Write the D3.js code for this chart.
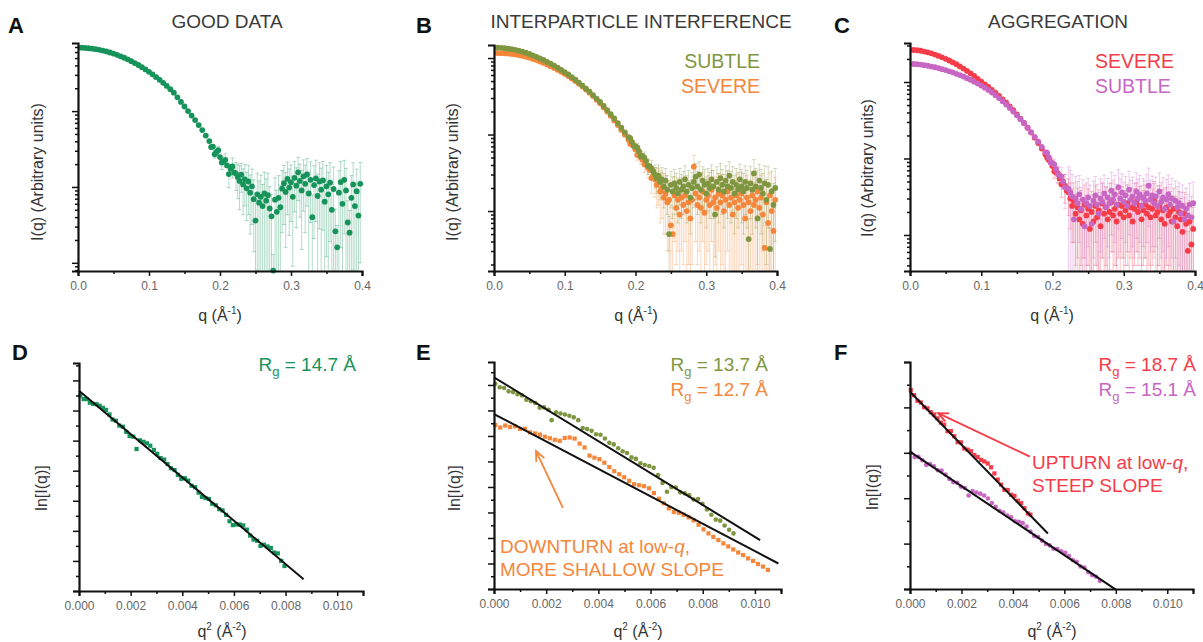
<!DOCTYPE html>
<html>
<head>
<meta charset="utf-8">
<script src="https://cdn.jsdelivr.net/npm/d3@7"></script>
<style>
  body { margin: 0; background: #fff; }
  svg { display: block; }
  text { font-family: "Liberation Sans", Arial, Helvetica, sans-serif; }
</style>
</head>
<body>
<script>
// ---------------- Scattering profiles I(q) ----------------
const qGrid = [0.005,0.010,0.015,0.020,0.025,0.030,0.035,0.040,0.045,0.050,0.055,0.060,0.065,0.070,0.075,0.080,0.085,0.090,0.095,0.100,0.105,0.110,0.115,0.120,0.125,0.130,0.135,0.140,0.145,0.150,0.155,0.160,0.165,0.170,0.175,0.180,0.185,0.190,0.195,0.200,0.205,0.210,0.215,0.220,0.225];

// smooth low-q part of each profile (one value per qGrid entry)
const goodI = [685,680,674,664,654,642,627,611,592,573,551,527,505,481,455,430,405,379,354,329,305,281,258,236,215,194,175,152,132,115,100,87.3,76.2,65.4,56.2,47.6,40.3,34.1,28.9,24.8,21.7,19.2,17.3,15.5];
const ipiSubtleI = [1364,1359,1347,1331,1307,1280,1250,1212,1173,1128,1081,1037,988,942,892,845,796,749,701,656,609,564,521,478,437,399,363,328,295,266,236,209,184,162,141,123,107,92.7,80.3,69.7,60.5,52.4,45.0,38.7,33.3];
const ipiSevereI = [1162,1158,1152,1145,1132,1115,1095,1068,1043,1010,973,940,900,863,822,783,743,703,660,621,580,539,501,461,423,387,352,318,285,256,226,200,175,153,133,115,99.5,85.7,73.8,63.7,54.9,47.2,40.3,34.3,29.3];
const aggSevereI = [262,260,256,250,244,237,228,219,210,201,191,181,171,160,150,140,130,120,110,101,93.3,86.0,78.8,72.0,65.6,59.4,53.5,47.8,42.7,37.8,33.2,29.1,25.3,21.8,18.7,15.9,13.5,11.4,9.53,7.96,6.62,5.49,4.56,3.78];
const aggSubtleI = [172,171,169,166,163,159,156,152,147,143,138,134,128,123,118,112,107,101,95.3,89.7,84.2,78.6,72.9,67.2,61.6,56.1,50.8,45.7,41.0,36.7,32.6,28.9,25.3,22.1,19.2,16.6,14.2,12.1,10.3,8.66,7.25,6.03,5.00,4.14];

// noisy high-q part: [q, I, error]
const goodTail = [[0.1875,33.5,2.5],[0.1925,27.0,3],[0.1975,30.5,3.5],[0.2025,21.0,4],[0.2075,22.8,4.5],[0.2125,14.8,5],[0.2175,18.6,5.5],
[0.2225,15.0,6],[0.225,13.5,6.5],[0.2275,12.0,7],[0.230,14.5,6],[0.2325,10.8,6.5],[0.235,12.6,7],[0.2375,9.6,6],[0.240,11.8,7.5],[0.2425,8.4,6],[0.245,10.2,7],[0.2475,6.9,5.5],[0.250,3.6,3.2],[0.2525,8.0,7.2],[0.255,6.2,5.8],[0.2575,7.4,6.9],[0.260,5.6,5.2],[0.2625,8.2,7.5],[0.265,6.6,6.2],[0.2675,7.8,7.4],[0.270,5.2,4.9],[0.2725,4.1,3.9],[0.275,0.79,0.5],[0.2775,6.8,6.4],[0.280,4.7,4.4],[0.2825,7.2,6.9],[0.285,5.4,5.1],[0.2875,9.5,7.0],[0.290,11.2,8.0],[0.2925,8.6,7.0],[0.295,12.8,8.5],[0.2975,9.8,7.5],[0.300,11.5,8.0],[0.3025,7.4,6.5],[0.305,13.2,8.5],[0.3075,10.4,7.5],[0.310,15.6,9],[0.3125,12.0,8],[0.315,9.0,7.5],[0.3175,13.8,9],[0.320,11.0,8.5],[0.3225,14.6,9],[0.325,8.2,7.5],[0.3275,12.4,9],[0.330,4.0,3.8],[0.3325,10.6,8.5],[0.335,13.0,9.5],[0.3375,7.6,7.2],[0.340,11.8,9],[0.3425,9.2,8.5],[0.345,12.2,9.5],[0.3475,6.4,6.1],[0.350,10.2,9],[0.3525,8.0,7.6],[0.355,11.4,9.5],[0.3575,5.0,4.8],[0.360,9.4,8.9],[0.3625,2.6,2.5],[0.365,1.6,1.5],[0.3675,8.4,8],[0.370,11.6,10],[0.3725,6.0,5.7],[0.375,12.4,10],[0.3775,9.0,8.6],[0.380,3.4,3.2],[0.3825,2.5,2.4],[0.385,7.2,6.9],[0.3875,10.8,10],[0.390,5.6,5.3],[0.3925,8.8,8.4],[0.395,4.2,4.0],[0.3975,11.0,10]];

const ipiSubtleTail = [[0.1925,90,8],[0.1975,71,8],[0.2025,68,9],[0.2075,52,8],[0.2125,50,9],[0.2175,39,9],[0.2225,36,10],
[0.2275,30,10],[0.230,27,10],[0.2325,29,11],[0.235,24,10],[0.2375,26,11],[0.240,21,10],[0.2425,25,11],[0.245,19,10],[0.2475,5.0,3.5],[0.250,22,11],[0.2525,18,10],[0.255,23,12],[0.2575,20,11],[0.260,17,10],[0.2625,24,12],[0.265,19,11],[0.2675,21,12],[0.270,26,13],[0.2725,18,11],[0.275,22,12],[0.2775,15,10],[0.280,20,12],[0.2825,24,13],[0.285,28,14],[0.2875,21,12],[0.290,30,14],[0.2925,19,12],[0.295,25,13],[0.2975,22,13],[0.300,17,11],[0.3025,23,13],[0.305,20,12],[0.3075,26,14],[0.310,21,13],[0.3125,9.0,6.5],[0.315,24,14],[0.3175,19,12],[0.320,27,15],[0.3225,22,13],[0.325,18,12],[0.3275,25,14],[0.330,21,13],[0.3325,29,15],[0.335,20,13],[0.3375,24,14],[0.340,17,12],[0.3425,22,14],[0.345,19,13],[0.3475,26,15],[0.350,21,14],[0.3525,18,13],[0.355,24,15],[0.3575,20,14],[0.360,4.3,3.5],[0.3625,23,15],[0.365,19,14],[0.3675,31,16],[0.370,21,15],[0.3725,8.0,6.5],[0.375,25,16],[0.3775,20,15],[0.380,17,14],[0.3825,23,16],[0.385,14,12],[0.3875,22,16],[0.390,3.2,2.8],[0.3925,18,15],[0.395,12,11],[0.3975,20,16]];

const ipiSevereTail = [[0.1925,76,7],[0.1975,72,8],[0.2025,54,8],[0.2075,50,9],[0.2125,41,9],[0.2175,37,10],[0.2225,27,10],
[0.2275,26,11],[0.230,22,11],[0.2325,24,12],[0.235,18,11],[0.2375,20,12],[0.240,15,10],[0.2425,17,12],[0.245,13,10],[0.2475,14,11],[0.250,6.5,5.5],[0.2525,5.0,4.2],[0.255,16,12],[0.2575,11,9],[0.260,14,11],[0.2625,9.0,7.5],[0.265,15,12],[0.2675,12,10],[0.270,16,12],[0.2725,10,8.5],[0.275,13,11],[0.2775,8.0,7],[0.280,14,12],[0.2825,38,15],[0.285,17,13],[0.2875,12,10],[0.290,15,12],[0.2925,11,9.5],[0.295,18,14],[0.2975,9.5,8.5],[0.300,14,12],[0.3025,16,13],[0.305,12,10.5],[0.3075,19,15],[0.310,13,11.5],[0.3125,15,13],[0.315,11,10],[0.3175,17,14],[0.320,13,12],[0.3225,16,14],[0.325,10,9.2],[0.3275,14,12.5],[0.330,18,15],[0.3325,12,11],[0.335,15,13.5],[0.3375,9.0,8.4],[0.340,13,12],[0.3425,16,14.5],[0.345,11,10.3],[0.3475,14,13],[0.350,17,15],[0.3525,12,11.2],[0.355,8.0,7.6],[0.3575,15,14],[0.360,13,12.5],[0.3625,10,9.6],[0.365,16,15],[0.3675,12,11.5],[0.370,14,13.5],[0.3725,18,16],[0.375,11,10.6],[0.3775,15,14.5],[0.380,9.0,8.7],[0.3825,3.3,3.2],[0.385,13,12.6],[0.3875,7.0,6.8],[0.390,16,15.5],[0.3925,10,9.8],[0.395,5.5,5.4],[0.3975,14,13.6]];

const aggSevereTail = [[0.1925,10.2,1],[0.1975,9.0,1.2],[0.2025,6.8,1.3],[0.2075,6.4,1.5],[0.2125,4.6,1.5],[0.2175,4.4,1.8],
[0.2225,3.6,1.8],[0.225,3.0,1.8],[0.2275,2.4,1.6],[0.230,2.8,2.0],[0.2325,1.9,1.5],[0.235,2.3,1.8],[0.2375,1.6,1.3],[0.240,2.1,1.7],[0.2425,1.4,1.2],[0.245,2.5,2.0],[0.2475,1.8,1.5],[0.250,2.2,1.8],[0.2525,1.2,1.0],[0.255,2.0,1.7],[0.2575,1.5,1.3],[0.260,2.4,2.0],[0.2625,1.7,1.5],[0.265,2.1,1.8],[0.2675,1.3,1.1],[0.270,2.6,2.1],[0.2725,1.9,1.6],[0.275,2.3,1.9],[0.2775,1.6,1.4],[0.280,2.0,1.7],[0.2825,2.7,2.1],[0.285,1.8,1.5],[0.2875,2.2,1.8],[0.290,1.5,1.3],[0.2925,2.5,2.0],[0.295,1.9,1.6],[0.2975,2.4,1.9],[0.300,1.7,1.4],[0.3025,2.1,1.7],[0.305,2.6,2.0],[0.3075,1.8,1.5],[0.310,2.3,1.8],[0.3125,1.5,1.3],[0.315,2.2,1.8],[0.3175,2.7,2.1],[0.320,2.0,1.6],[0.3225,2.4,1.9],[0.325,1.6,1.3],[0.3275,2.1,1.7],[0.330,2.5,2.0],[0.3325,1.9,1.6],[0.335,2.3,1.9],[0.3375,1.7,1.5],[0.340,2.2,1.8],[0.3425,2.8,2.2],[0.345,1.8,1.5],[0.3475,2.0,1.7],[0.350,2.4,2.0],[0.3525,1.6,1.4],[0.355,2.1,1.8],[0.3575,1.4,1.2],[0.360,2.3,1.9],[0.3625,1.8,1.6],[0.365,2.0,1.7],[0.3675,1.5,1.3],[0.370,2.2,1.9],[0.3725,1.7,1.5],[0.375,1.3,1.1],[0.3775,2.0,1.7],[0.380,1.6,1.4],[0.3825,1.1,1.0],[0.385,1.9,1.7],[0.3875,1.4,1.2],[0.390,0.62,0.5],[0.3925,1.5,1.3],[0.395,0.75,0.6],[0.3975,1.2,1.1]];

const aggSubtleTail = [[0.1925,11.8,1],[0.1975,8.8,1.2],[0.2025,8.4,1.4],[0.2075,6.2,1.5],[0.2125,5.8,1.8],[0.2175,4.2,2],
[0.2225,4.0,3.8],[0.225,3.6,3.4],[0.2275,3.2,3.0],[0.230,1.6,1.5],[0.2325,3.0,2.8],[0.235,2.6,2.4],[0.2375,3.4,2.6],[0.240,2.2,2.0],[0.2425,2.9,2.4],[0.245,1.3,1.2],[0.2475,2.6,2.2],[0.250,3.1,2.4],[0.2525,2.4,2.1],[0.255,1.4,1.3],[0.2575,2.8,2.3],[0.260,3.3,2.5],[0.2625,2.5,2.1],[0.265,1.9,1.7],[0.2675,3.0,2.4],[0.270,2.7,2.2],[0.2725,3.5,2.6],[0.275,2.3,2.0],[0.2775,3.1,2.4],[0.280,2.6,2.1],[0.2825,3.8,2.8],[0.285,2.9,2.3],[0.2875,3.4,2.6],[0.290,2.5,2.1],[0.2925,4.2,3.0],[0.295,3.0,2.4],[0.2975,3.6,2.7],[0.300,2.7,2.2],[0.3025,3.3,2.5],[0.305,2.4,2.0],[0.3075,3.9,2.9],[0.310,2.9,2.3],[0.3125,3.2,2.5],[0.315,2.6,2.1],[0.3175,3.7,2.8],[0.320,3.0,2.4],[0.3225,3.4,2.6],[0.325,2.4,2.0],[0.3275,3.1,2.4],[0.330,2.8,2.3],[0.3325,3.5,2.7],[0.335,4.4,3.1],[0.3375,2.9,2.3],[0.340,3.3,2.6],[0.3425,2.6,2.1],[0.345,3.2,2.5],[0.3475,2.4,2.0],[0.350,3.7,2.8],[0.3525,2.7,2.2],[0.355,3.1,2.5],[0.3575,2.2,1.9],[0.360,2.9,2.4],[0.3625,3.4,2.7],[0.365,2.5,2.1],[0.3675,3.0,2.5],[0.370,1.5,1.4],[0.3725,2.8,2.3],[0.375,2.3,2.0],[0.3775,2.6,2.2],[0.380,1.9,1.7],[0.3825,2.4,2.1],[0.385,1.6,1.5],[0.3875,2.2,1.9],[0.390,1.8,1.6],[0.3925,2.5,2.2],[0.395,1.7,1.5],[0.3975,2.6,2.3]];

// ---------------- Guinier plots: [q^2, ln I] ----------------
const guinierGood = [[0.00005,4.650],[0.00018,4.638],[0.00030,4.638],[0.00042,4.626],[0.00055,4.622],[0.00068,4.621],[0.00080,4.616],[0.00093,4.609],[0.00105,4.602],[0.00118,4.587],[0.00130,4.570],[0.00143,4.566],[0.00156,4.550],[0.00170,4.546],[0.00183,4.529],[0.00196,4.515],[0.00210,4.513],[0.00223,4.472],[0.00236,4.501],[0.00250,4.496],[0.00263,4.491],[0.00276,4.483],[0.00290,4.469],[0.00303,4.456],[0.00316,4.442],[0.00330,4.437],[0.00343,4.422],[0.00356,4.408],[0.00370,4.402],[0.00383,4.386],[0.00396,4.373],[0.00410,4.375],[0.00423,4.367],[0.00436,4.350],[0.00450,4.345],[0.00463,4.327],[0.00476,4.313],[0.00490,4.309],[0.00503,4.306],[0.00516,4.290],[0.00530,4.285],[0.00543,4.272],[0.00556,4.268],[0.00570,4.253],[0.00583,4.232],[0.00596,4.219],[0.00610,4.221],[0.00623,4.221],[0.00636,4.218],[0.00650,4.204],[0.00663,4.184],[0.00676,4.171],[0.00690,4.167],[0.00703,4.150],[0.00716,4.154],[0.00730,4.148],[0.00743,4.143],[0.00756,4.128],[0.00770,4.125],[0.00783,4.100],[0.00796,4.083]];

const guinierIpiSubtle = [[0.00005,4.805],[0.00022,4.791],[0.00039,4.788],[0.00056,4.775],[0.00073,4.772],[0.00090,4.764],[0.00107,4.759],[0.00124,4.742],[0.00141,4.736],[0.00158,4.729],[0.00175,4.711],[0.00192,4.712],[0.00209,4.703],[0.00221,4.662],[0.00238,4.693],[0.00255,4.688],[0.00272,4.684],[0.00289,4.679],[0.00306,4.673],[0.00323,4.662],[0.00340,4.631],[0.00357,4.627],[0.00374,4.620],[0.00391,4.607],[0.00408,4.605],[0.00425,4.590],[0.00442,4.573],[0.00459,4.567],[0.00476,4.552],[0.00493,4.540],[0.00510,4.533],[0.00527,4.516],[0.00544,4.510],[0.00561,4.493],[0.00578,4.486],[0.00595,4.482],[0.00612,4.475],[0.00629,4.447],[0.00646,4.416],[0.00663,4.381],[0.00680,4.399],[0.00697,4.398],[0.00714,4.379],[0.00731,4.375],[0.00748,4.368],[0.00765,4.351],[0.00782,4.353],[0.00799,4.334],[0.00816,4.312],[0.00833,4.291],[0.00850,4.272],[0.00867,4.268],[0.00884,4.249],[0.00901,4.232],[0.00918,4.218]];

const guinierIpiSevere = [[0.00005,4.643],[0.00024,4.633],[0.00043,4.641],[0.00062,4.635],[0.00081,4.638],[0.00100,4.628],[0.00119,4.628],[0.00138,4.614],[0.00157,4.610],[0.00176,4.605],[0.00195,4.597],[0.00214,4.591],[0.00233,4.585],[0.00252,4.581],[0.00271,4.592],[0.00290,4.594],[0.00309,4.590],[0.00328,4.570],[0.00347,4.555],[0.00366,4.523],[0.00385,4.515],[0.00404,4.509],[0.00423,4.495],[0.00442,4.478],[0.00461,4.462],[0.00480,4.450],[0.00499,4.438],[0.00518,4.424],[0.00537,4.411],[0.00556,4.407],[0.00575,4.403],[0.00594,4.395],[0.00613,4.376],[0.00632,4.354],[0.00651,4.336],[0.00670,4.316],[0.00689,4.302],[0.00708,4.299],[0.00727,4.291],[0.00746,4.281],[0.00765,4.269],[0.00784,4.252],[0.00803,4.234],[0.00822,4.218],[0.00841,4.204],[0.00860,4.192],[0.00879,4.179],[0.00898,4.167],[0.00917,4.155],[0.00936,4.143],[0.00955,4.133],[0.00974,4.120],[0.00993,4.110],[0.01012,4.098],[0.01031,4.088],[0.01050,4.075]];

const guinierAggSevere = [[0.00003,4.876],[0.00016,4.854],[0.00029,4.829],[0.00042,4.822],[0.00055,4.801],[0.00068,4.796],[0.00081,4.779],[0.00094,4.769],[0.00107,4.752],[0.00120,4.733],[0.00133,4.724],[0.00146,4.695],[0.00159,4.696],[0.00172,4.673],[0.00185,4.647],[0.00198,4.646],[0.00211,4.619],[0.00224,4.614],[0.00237,4.607],[0.00250,4.590],[0.00263,4.581],[0.00276,4.569],[0.00289,4.562],[0.00302,4.553],[0.00315,4.536],[0.00328,4.509],[0.00341,4.482],[0.00354,4.460],[0.00367,4.437],[0.00380,4.436],[0.00393,4.415],[0.00406,4.410],[0.00419,4.389],[0.00432,4.378],[0.00445,4.356],[0.00458,4.333],[0.00468,4.328]];

const guinierAggSubtle = [[0.00003,4.599],[0.00018,4.581],[0.00033,4.582],[0.00048,4.567],[0.00063,4.547],[0.00078,4.550],[0.00093,4.540],[0.00108,4.523],[0.00123,4.522],[0.00138,4.504],[0.00153,4.485],[0.00168,4.471],[0.00183,4.468],[0.00198,4.451],[0.00213,4.445],[0.00228,4.412],[0.00243,4.432],[0.00258,4.425],[0.00273,4.420],[0.00288,4.412],[0.00303,4.399],[0.00318,4.379],[0.00333,4.362],[0.00348,4.345],[0.00363,4.337],[0.00378,4.324],[0.00393,4.316],[0.00408,4.299],[0.00423,4.296],[0.00438,4.290],[0.00453,4.275],[0.00468,4.253],[0.00483,4.234],[0.00498,4.229],[0.00513,4.213],[0.00528,4.198],[0.00543,4.192],[0.00558,4.177],[0.00573,4.176],[0.00588,4.166],[0.00603,4.159],[0.00618,4.145],[0.00633,4.128],[0.00648,4.120],[0.00663,4.099],[0.00678,4.094],[0.00693,4.074],[0.00708,4.061],[0.00723,4.054],[0.00738,4.036]];

// Guinier fits: radius of gyration (Å), ln I(0), last q^2 of the fitted line
const fitGood       = { rg: 14.7, lnI0: 4.666, q2End: 0.0087 };
const fitIpiSubtle  = { rg: 13.7, lnI0: 4.830, q2End: 0.0102 };
const fitIpiSevere  = { rg: 12.7, lnI0: 4.686, q2End: 0.0109 };
const fitAggSevere  = { rg: 18.7, lnI0: 4.869, q2End: 0.00536 };
const fitAggSubtle  = { rg: 15.1, lnI0: 4.605, q2End: 0.0080 };

// axis labels
const qTickLabels  = [0.0, 0.1, 0.2, 0.3, 0.4];
const q2TickLabels = [0.000, 0.002, 0.004, 0.006, 0.008, 0.010];

// ---------------- drawing ----------------
const COL = { green: "#16935a", olive: "#7f9640", orange: "#f5863a", red: "#f53c48", magenta: "#c866c4" };
const FONT = '"Liberation Sans", Arial, Helvetica, sans-serif';

const svg = d3.select("body").append("svg").attr("width", 1203).attr("height", 642);
svg.append("rect").attr("width", 1203).attr("height", 642).attr("fill", "#fff");

function styleAxis(g) {
  g.select(".domain").attr("stroke", "#111").attr("stroke-width", 2.2);
  g.selectAll(".tick line").attr("stroke", "#111").attr("stroke-width", 1.5);
  g.selectAll(".tick text").attr("fill", "#666").attr("font-size", 12).attr("font-family", FONT);
}

function letter(txt, x, y) {
  svg.append("text").attr("x", x).attr("y", y).attr("font-size", 22).attr("font-weight", "bold")
    .attr("fill", "#111").text(txt);
}

function yTitle(parts, x, y) {
  const t = svg.append("text").attr("transform", `translate(${x},${y}) rotate(-90)`)
    .attr("text-anchor", "middle").attr("dominant-baseline", "central")
    .attr("font-size", 16).attr("fill", "#333");
  t.text(parts);
}

function xTitleTop(cx, y) {
  const t = svg.append("text").attr("x", cx).attr("y", y).attr("text-anchor", "middle")
    .attr("font-size", 16).attr("fill", "#333");
  t.append("tspan").text("q (Å");
  t.append("tspan").attr("dy", -7).attr("font-size", 10).text("-1");
  t.append("tspan").attr("dy", 7).text(")");
}

function xTitleBottom(cx, y) {
  const t = svg.append("text").attr("x", cx).attr("y", y).attr("text-anchor", "middle")
    .attr("font-size", 16).attr("fill", "#333");
  t.append("tspan").text("q");
  t.append("tspan").attr("dy", -7).attr("font-size", 10).text("2");
  t.append("tspan").attr("dy", 7).text(" (Å");
  t.append("tspan").attr("dy", -7).attr("font-size", 10).text("-2");
  t.append("tspan").attr("dy", 7).text(")");
}

// ---- I(q) panel on a log intensity axis ----
function profilePanel(o) {
  const x = d3.scaleLinear().domain([0, 0.4]).range([o.x0, o.x1]);
  const y = d3.scaleLog().domain(o.yDom).range([o.yBot, o.yTop]);
  const g = svg.append("g");
  const yMin = o.yDom[0];

  // error bars of the high-q points
  o.series.forEach(s => {
    const eb = g.append("g").attr("stroke", s.color).attr("stroke-opacity", 0.32).attr("stroke-width", 1);
    s.tail.forEach(([q, I, e]) => {
      const xp = x(q), lo = y(Math.max(I - e, yMin)), hi = y(I + e);
      eb.append("line").attr("x1", xp).attr("x2", xp).attr("y1", lo).attr("y2", hi);
      eb.append("line").attr("x1", xp - 2).attr("x2", xp + 2).attr("y1", hi).attr("y2", hi);
      if (I - e > yMin) eb.append("line").attr("x1", xp - 2).attr("x2", xp + 2).attr("y1", lo).attr("y2", lo);
    });
  });

  // points
  o.series.forEach(s => {
    const pts = s.smooth.map((I, i) => [qGrid[i], I]).concat(s.tail.map(d => [d[0], d[1]]));
    g.append("g").selectAll("circle").data(pts).join("circle")
      .attr("cx", d => x(d[0])).attr("cy", d => y(d[1])).attr("r", 2.9).attr("fill", s.color);
  });

  // axes
  const xMinor = x.ticks(8);
  const ax = g.append("g").attr("transform", `translate(0,${o.yBot})`)
    .call(d3.axisBottom(x).tickValues(xMinor).tickSizeOuter(0).tickSize(5)
      .tickFormat(d => qTickLabels.some(v => Math.abs(v - d) < 1e-9) ? d3.format(".1f")(d) : ""));
  styleAxis(ax);
  ax.selectAll(".tick").filter(d => !qTickLabels.some(v => Math.abs(v - d) < 1e-9))
    .select("line").attr("y2", 3);
  ax.selectAll(".tick text").attr("dy", "0.95em");

  const yt = y.ticks();
  const ay = g.append("g").attr("transform", `translate(${o.x0},0)`)
    .call(d3.axisLeft(y).tickValues(yt).tickFormat("").tickSizeOuter(0).tickSize(6));
  styleAxis(ay);
  ay.selectAll(".tick").filter(d => Math.abs(Math.log10(d) - Math.round(Math.log10(d))) > 1e-6)
    .select("line").attr("x2", -3);
}

// ---- Guinier panel: ln I versus q^2 ----
function guinierPanel(o) {
  const x = d3.scaleLinear().domain([0, 0.011]).range([o.x0, o.x1]);
  const y = d3.scaleLinear().domain(o.yDom).range([o.yBot, o.yTop]);
  const g = svg.append("g");

  o.series.forEach(s => {
    const m = g.append("g").attr("fill", s.color);
    if (s.shape === "square") {
      m.selectAll("rect").data(s.pts).join("rect")
        .attr("x", d => x(d[0]) - 2.1).attr("y", d => y(d[1]) - 2.1).attr("width", 4.2).attr("height", 4.2);
    } else {
      m.selectAll("circle").data(s.pts).join("circle")
        .attr("cx", d => x(d[0])).attr("cy", d => y(d[1])).attr("r", 2.3);
    }
  });

  // fitted Guinier lines: ln I = ln I0 - (Rg^2 / 3) q^2
  const line = d3.line().x(d => x(d[0])).y(d => y(d[1]));
  o.fits.forEach(f => {
    const slope = f.rg * f.rg / 3;
    g.append("path").datum([[0, f.lnI0], [f.q2End, f.lnI0 - slope * f.q2End]])
      .attr("d", line).attr("stroke", "#111").attr("stroke-width", 2).attr("fill", "none");
  });

  const xt = x.ticks(11);
  const ax = g.append("g").attr("transform", `translate(0,${o.yBot})`)
    .call(d3.axisBottom(x).tickValues(xt).tickSizeOuter(0).tickSize(5)
      .tickFormat(d => q2TickLabels.some(v => Math.abs(v - d) < 1e-9) ? d3.format(".3f")(d) : ""));
  styleAxis(ax);
  ax.selectAll(".tick").filter(d => !q2TickLabels.some(v => Math.abs(v - d) < 1e-9))
    .select("line").attr("y2", 3);
  ax.selectAll(".tick text").attr("dy", "0.95em");

  const yt = y.ticks(o.yCount);
  const ay = g.append("g").attr("transform", `translate(${o.x0},0)`)
    .call(d3.axisLeft(y).tickValues(yt).tickFormat("").tickSizeOuter(0).tickSize(6));
  styleAxis(ay);
  ay.selectAll(".tick").filter(d => Math.abs(d / o.major - Math.round(d / o.major)) > 1e-6)
    .select("line").attr("x2", -3);

  // radius of gyration labels
  o.fits.forEach((f, i) => {
    const t = svg.append("text").attr("x", o.rgX).attr("y", 371 + i * 25).attr("text-anchor", "end")
      .attr("font-size", 19).attr("fill", f.color);
    t.append("tspan").text("R");
    t.append("tspan").attr("dy", 5).attr("font-size", 13).text("g");
    t.append("tspan").attr("dy", -5).text(` = ${f.rg.toFixed(1)} Å`);
  });

  return { x, y };
}

function arrow(p, from, to, color) {
  const x1 = p.x(from[0]), y1 = p.y(from[1]), x2 = p.x(to[0]), y2 = p.y(to[1]);
  const a = Math.atan2(y1 - y2, x1 - x2), L = 11, w = 0.42;
  const g = svg.append("g").attr("stroke", color).attr("stroke-width", 1.8).attr("fill", "none");
  g.append("line").attr("x1", x1).attr("y1", y1).attr("x2", x2).attr("y2", y2);
  g.append("path").attr("d",
    `M${x2 + L * Math.cos(a + w)},${y2 + L * Math.sin(a + w)}L${x2},${y2}L${x2 + L * Math.cos(a - w)},${y2 + L * Math.sin(a - w)}`);
}

function note(lines, x, y0, color) {
  lines.forEach((parts, i) => {
    const t = svg.append("text").attr("x", x).attr("y", y0 + i * 23).attr("font-size", 19).attr("fill", color);
    parts.forEach(p => t.append("tspan").attr("font-style", p.it ? "italic" : null).text(p.t));
  });
}

function heading(txt, cx, y) {
  svg.append("text").attr("x", cx).attr("y", y).attr("text-anchor", "middle")
    .attr("font-size", 19).attr("fill", "#3a3a3a").text(txt);
}

function legend(items, x, anchor) {
  items.forEach((it, i) => {
    svg.append("text").attr("x", x).attr("y", 68 + i * 25).attr("text-anchor", anchor)
      .attr("font-size", 19.5).attr("fill", it.color).text(it.label);
  });
}

// ---------- top row ----------
profilePanel({ x0: 78, x1: 362, yTop: 43, yBot: 271, yDom: [0.78, 790],
  series: [{ color: COL.green, smooth: goodI, tail: goodTail }] });
profilePanel({ x0: 494, x1: 777, yTop: 45, yBot: 271, yDom: [1.645, 1480],
  series: [{ color: COL.orange, smooth: ipiSevereI, tail: ipiSevereTail },
           { color: COL.olive, smooth: ipiSubtleI, tail: ipiSubtleTail }] });
profilePanel({ x0: 910, x1: 1195, yTop: 43, yBot: 271, yDom: [0.338, 323.5],
  series: [{ color: COL.red, smooth: aggSevereI, tail: aggSevereTail },
           { color: COL.magenta, smooth: aggSubtleI, tail: aggSubtleTail }] });

letter("A", 8, 33); letter("B", 416, 33); letter("C", 834, 33);
heading("GOOD DATA", 227, 28);
heading("INTERPARTICLE INTERFERENCE", 641, 28);
heading("AGGREGATION", 1058, 28);
legend([{ label: "SUBTLE", color: COL.olive }, { label: "SEVERE", color: COL.orange }], 760, "end");
legend([{ label: "SEVERE", color: COL.red }, { label: "SUBTLE", color: COL.magenta }], 1095, "start");
yTitle("I(q) (Arbitrary units)", 37, 172);
yTitle("I(q) (Arbitrary units)", 452, 172);
yTitle("I(q) (Arbitrary units)", 867, 168);
xTitleTop(220, 321); xTitleTop(636, 321); xTitleTop(1052, 321);

// ---------- bottom row ----------
guinierPanel({ x0: 79, x1: 363, yTop: 363, yBot: 591, yDom: [4.0, 4.758], yCount: 15, major: 0.1, rgX: 356,
  series: [{ color: COL.green, shape: "square", pts: guinierGood }],
  fits: [Object.assign({ color: COL.green }, fitGood)] });
const pE = guinierPanel({ x0: 494, x1: 781, yTop: 362, yBot: 589, yDom: [4.0, 4.89], yCount: 18, major: 0.1, rgX: 768,
  series: [{ color: COL.olive, shape: "circle", pts: guinierIpiSubtle },
           { color: COL.orange, shape: "square", pts: guinierIpiSevere }],
  fits: [Object.assign({ color: COL.olive }, fitIpiSubtle), Object.assign({ color: COL.orange }, fitIpiSevere)] });
const pF = guinierPanel({ x0: 910, x1: 1193, yTop: 362, yBot: 589, yDom: [4.0, 5.0], yCount: 10, major: 0.2, rgX: 1196,
  series: [{ color: COL.red, shape: "square", pts: guinierAggSevere },
           { color: COL.magenta, shape: "circle", pts: guinierAggSubtle }],
  fits: [Object.assign({ color: COL.red }, fitAggSevere), Object.assign({ color: COL.magenta }, fitAggSubtle)] });

letter("D", 12, 360); letter("E", 416, 360); letter("F", 834, 360);
yTitle("ln[I(q)]", 41, 488); yTitle("ln[I(q)]", 454, 488); yTitle("ln[I(q)]", 872, 487);
xTitleBottom(222, 637); xTitleBottom(638, 637); xTitleBottom(1052, 637);

arrow(pE, [0.00264, 4.318], [0.00161, 4.541], COL.orange);
note([[{ t: "DOWNTURN at low-" }, { t: "q", it: true }, { t: "," }], [{ t: "MORE SHALLOW SLOPE" }]], 500, 553, COL.orange);
arrow(pF, [0.00466, 4.583], [0.00109, 4.775], COL.red);
note([[{ t: "UPTURN at low-" }, { t: "q", it: true }, { t: "," }], [{ t: "STEEP SLOPE" }]], 1032, 469, COL.red);
</script>
</body>
</html>
